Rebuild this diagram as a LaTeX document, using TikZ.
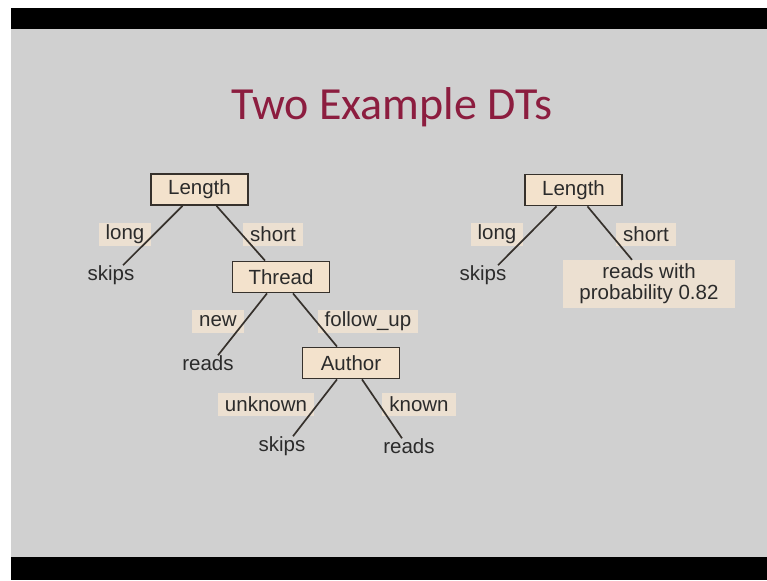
\documentclass[tikz,border=0pt]{standalone}
\usepackage{fontspec}
\setmainfont{Liberation Sans}
\newfontfamily\titlefont{Carlito}
\definecolor{slidegray}{HTML}{D0D0D0}
\definecolor{boxfill}{HTML}{F3E2CC}
\definecolor{labelfill}{HTML}{ECE0D1}
\definecolor{edgecol}{HTML}{36312C}
\definecolor{titlered}{HTML}{8C1D3F}
\definecolor{inkgray}{HTML}{2B2B2B}

\begin{document}
\begin{tikzpicture}[x=1pt, y=-1pt, font=\fontsize{20.5}{21}\selectfont, text=inkgray,
    test/.style={draw=edgecol, line width=1.8pt, fill=boxfill, minimum width=97pt, minimum height=31pt, inner sep=0pt},
    branch/.style={fill=labelfill, inner xsep=7pt, inner ysep=0pt, minimum height=23pt},
    leaf/.style={inner sep=0pt},
    edge/.style={draw=edgecol, line width=1.7pt}]
    \useasboundingbox (0,0) rectangle (767,580);
    % slide frame
    \fill[white] (0,0) rectangle (767,580);
    \fill[black] (11,8) rectangle (767,29);
    \fill[slidegray] (11,29) rectangle (767,557);
    \fill[black] (11,557) rectangle (767,580);

    \node[text=titlered, font=\titlefont\fontsize{46}{50}\selectfont, anchor=base] (title) at (392,120) {Two Example DTs};

    % first tree
    \begin{scope}
        \node[test] (len1) at (199.5,189.5) {Length};
        \node[branch] (long1) at (125,234) {long};
        \node[branch] (short1) at (273,234) {short};
        \node[leaf] (skips1) at (111,275) {skips};
        \node[test] (thr) at (281,277) {Thread};
        \node[branch] (new) at (218,321) {new};
        \node[branch] (follow) at (368,321) {follow\_up};
        \node[leaf] (reads1) at (208,363) {reads};
        \node[test] (auth) at (351,363) {Author};
        \node[branch] (unknown) at (266,404) {unknown};
        \node[branch] (known) at (419,404) {known};
        \node[leaf] (skips2) at (282,446) {skips};
        \node[leaf] (reads2) at (409,446) {reads};

        \draw[edge] ([xshift=-17pt]len1.south) -- ([xshift=12pt]skips1.north);
        \draw[edge] ([xshift=17pt]len1.south) -- ([xshift=-16pt]thr.north);
        \draw[edge] ([xshift=-14pt]thr.south) -- ([xshift=10pt]reads1.north);
        \draw[edge] ([xshift=12pt]thr.south) -- ([xshift=-14pt]auth.north);
        \draw[edge] ([xshift=-14pt]auth.south) -- ([xshift=11pt]skips2.north);
        \draw[edge] ([xshift=11pt]auth.south) -- ([xshift=-7pt]reads2.north);
    \end{scope}

    % second tree
    \begin{scope}
        \node[test] (len2) at (573.5,190) {Length};
        \node[branch] (long2) at (497,234) {long};
        \node[branch] (short2) at (646,234) {short};
        \node[leaf] (skips3) at (483,275) {skips};
        \node[branch, align=center, minimum width=172pt, minimum height=48pt] (prob) at (649,284)
            {reads with\\probability 0.82};

        \draw[edge] ([xshift=-17pt]len2.south) -- ([xshift=15pt]skips3.north);
        \draw[edge] ([xshift=14pt]len2.south) -- ([xshift=-17pt]prob.north);
    \end{scope}
\end{tikzpicture}
\end{document}
